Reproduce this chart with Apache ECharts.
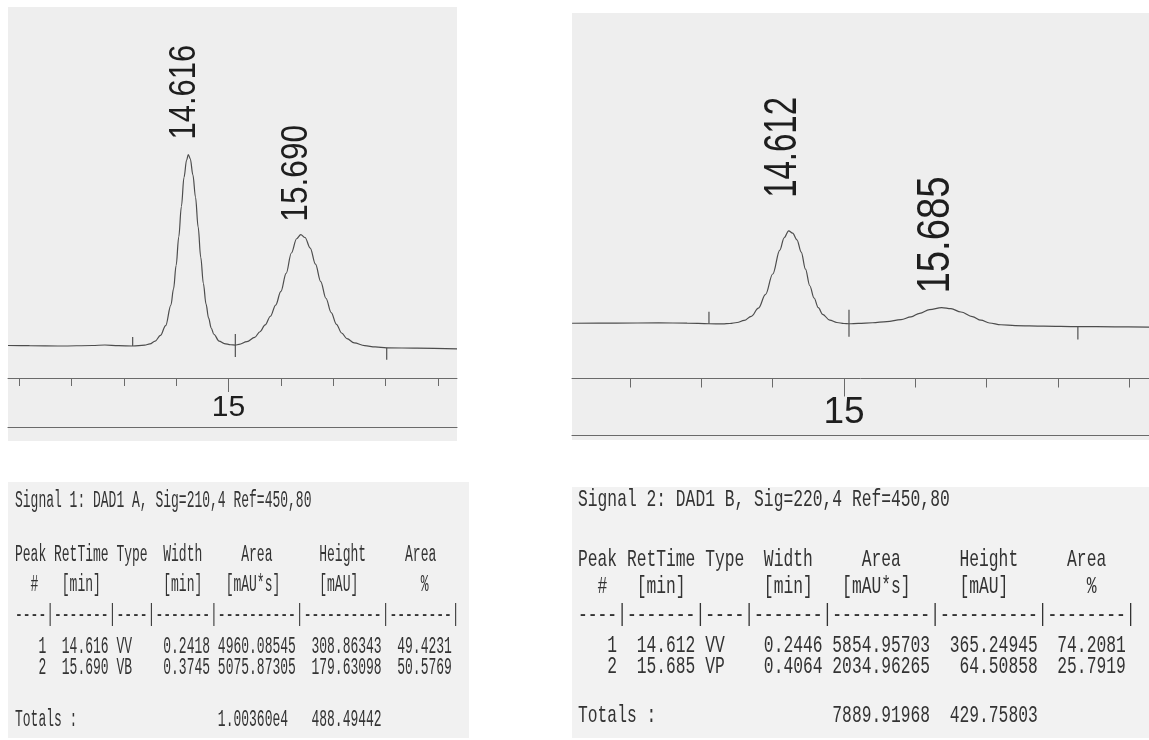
<!DOCTYPE html>
<html>
<head>
<meta charset="utf-8">
<script src="https://cdn.jsdelivr.net/npm/echarts@6/dist/echarts.min.js"></script>
<style>
html, body { margin: 0; padding: 0; background: #ffffff; }
#main { width: 1149px; height: 740px; }
</style>
</head>
<body>
<div id="main"></div>
<script>
// ---- time ruler (min) ----
const rulerTicks = [13, 13.5, 14, 14.5, 15, 15.5, 16, 16.5, 17];
const rulerLabels = [15];

// ---- Signal 1 (DAD1 A, 210 nm) trace ----
const sig1Time = [12.895, 13.10, 13.40, 13.70, 13.82, 13.95, 14.085, 14.20, 14.25, 14.30, 14.35, 14.40,
  14.45, 14.475, 14.50, 14.525, 14.55, 14.575, 14.60, 14.616, 14.635, 14.66, 14.685, 14.71, 14.735,
  14.76, 14.785, 14.81, 14.835, 14.86, 14.91, 14.96, 15.02, 15.065, 15.10, 15.176, 15.25, 15.30, 15.35,
  15.40, 15.45, 15.50, 15.55, 15.60, 15.65, 15.69, 15.73, 15.78, 15.83, 15.88, 15.93, 15.98, 16.03,
  16.08, 16.13, 16.20, 16.30, 16.40, 16.51, 16.80, 17.181];
const sig1mAU = [0.8, 0.5, 0, 0.8, 1.6, 0.5, 0, 1.5, 3.5, 8, 17, 33,
  66, 92, 130, 176, 225, 272, 300, 308.86, 302, 276, 240, 192, 143,
  101, 68, 45, 29, 19, 8, 4, 2, 1.5, 2.5, 7, 14, 23, 34,
  48, 66, 88, 117, 150, 173, 179.63, 175, 158, 132, 104, 77, 54, 35,
  21, 12, 5, 0.5, -1.5, -3, -3.5, -4.5];
const sig1MarkTime = [14.085, 15.065, 16.51];
const sig1MarkKind = ['start', 'valley', 'end'];
const sig1PeakRT = [14.616, 15.690];
const sig1PeakHeight = [308.86, 179.63];

// ---- Signal 2 (DAD1 B, 220 nm) trace ----
const sig2Time = [13.093, 13.40, 13.70, 13.90, 14.053, 14.15, 14.20, 14.25, 14.30, 14.35, 14.40, 14.45,
  14.50, 14.55, 14.58, 14.612, 14.64, 14.67, 14.70, 14.73, 14.76, 14.79, 14.82, 14.85, 14.90, 14.95,
  15.00, 15.035, 15.10, 15.20, 15.30, 15.40, 15.47, 15.53, 15.60, 15.685, 15.75, 15.82, 15.90, 15.96,
  16.02, 16.10, 16.20, 16.40, 16.64, 16.90, 17.139];
const sig2mAU = [3, 3.5, 4.5, 3.5, 1, 0.5, 2, 6, 14, 30, 62, 116,
  196, 290, 338, 365.25, 356, 330, 282, 215, 150, 102, 64, 38, 15, 6,
  2, 1, 2.5, 5, 9, 17, 28, 42, 56, 64.51, 60, 47, 29, 15,
  4, -3, -6, -8, -10, -11, -12];
const sig2MarkTime = [14.053, 15.035, 16.64];
const sig2MarkKind = ['start', 'valley', 'end'];
const sig2PeakRT = [14.612, 15.685];
const sig2PeakHeight = [365.25, 64.51];

// ---- integration report, Signal 1 ----
const tab1Title = 'Signal 1: DAD1 A, Sig=210,4 Ref=450,80';
const tab1Peak = [1, 2];
const tab1RetTime = ['14.616', '15.690'];
const tab1Type = ['VV', 'VB'];
const tab1Width = ['0.2418', '0.3745'];
const tab1Area = ['4960.08545', '5075.87305'];
const tab1Height = ['308.86343', '179.63098'];
const tab1AreaPct = ['49.4231', '50.5769'];
const tab1Totals = ['1.00360e4', '488.49442'];

// ---- integration report, Signal 2 ----
const tab2Title = 'Signal 2: DAD1 B, Sig=220,4 Ref=450,80';
const tab2Peak = [1, 2];
const tab2RetTime = ['14.612', '15.685'];
const tab2Type = ['VV', 'VP'];
const tab2Width = ['0.2446', '0.4064'];
const tab2Area = ['5854.95703', '2034.96265'];
const tab2Height = ['365.24945', '64.50858'];
const tab2AreaPct = ['74.2081', '25.7919'];
const tab2Totals = ['7889.91968', '429.75803'];

const headLine1 = 'Peak RetTime Type  Width     Area      Height     Area  ';
const headLine2 = '  #   [min]        [min]   [mAU*s]     [mAU]        %   ';
const dashLine = '----|-------|----|-------|----------|----------|--------|';

function zip(a, b) { return a.map((v, i) => [v, b[i]]); }

function reportLines(title, peak, rt, type, width, area, height, pct, totals) {
  const rows = peak.map((p, i) =>
    String(p).padStart(4) + ' ' + rt[i].padStart(7) + ' ' + type[i].padEnd(4) + ' ' +
    width[i].padStart(7) + ' ' + area[i].padStart(10) + ' ' + height[i].padStart(10) + ' ' +
    pct[i].padStart(8));
  const tot = 'Totals :'.padEnd(26) + totals[0].padEnd(12) + totals[1];
  return [title, headLine1, headLine2, dashLine, rows[0], rows[1], tot];
}

const chart = echarts.init(document.getElementById('main'), null, { renderer: 'canvas' });

// panel layout (pixels)
const P1 = { left: 8, top: 7, width: 449, height: 371, xMin: 12.895, xMax: 17.181, yMin: -51.6, yMax: 546.8,
  minorLen: 8, majorLen: 14, labelSize: 30, labelMargin: 15, lowerOffset: 49 };
const P2 = { left: 572, top: 13, width: 577, height: 365.5, xMin: 13.0926, xMax: 17.1388, yMin: -213.7, yMax: 1219.6,
  minorLen: 9, majorLen: 18, labelSize: 37, labelMargin: 16, lowerOffset: 56.5 };

const axisGrey = '#6a6a6a';
const traceGrey = '#4d4d4d';

function rulerAxes(g, P) {
  return [
    { gridIndex: g, type: 'value', min: P.xMin, max: P.xMax, position: 'bottom',
      axisLine: { show: true, onZero: false, lineStyle: { color: axisGrey, width: 1 } },
      axisTick: { show: true, customValues: rulerTicks, length: P.minorLen, lineStyle: { color: axisGrey, width: 1 } },
      axisLabel: { show: false }, splitLine: { show: false } },
    { gridIndex: g, type: 'value', min: P.xMin, max: P.xMax, position: 'bottom',
      axisLine: { show: false, onZero: false },
      axisTick: { show: true, customValues: rulerLabels, length: P.majorLen, lineStyle: { color: axisGrey, width: 1 } },
      axisLabel: { show: true, customValues: rulerLabels, margin: P.labelMargin, fontSize: P.labelSize,
        fontFamily: 'Liberation Sans, Arial, sans-serif', color: '#1e1e1e', formatter: v => String(v) },
      splitLine: { show: false } },
    { gridIndex: g, type: 'value', min: P.xMin, max: P.xMax, position: 'bottom', offset: P.lowerOffset,
      axisLine: { show: true, onZero: false, lineStyle: { color: axisGrey, width: 1.2 } },
      axisTick: { show: false }, axisLabel: { show: false }, splitLine: { show: false } }
  ];
}

const markLen1 = { start: [9, 0], valley: [11, 12], end: [0, 12] };
const markLen2 = { start: [12, 0], valley: [14, 13], end: [0, 13] };

function markSeries(xi, yi, times, kinds, trT, trV, lens) {
  return {
    type: 'custom', xAxisIndex: xi, yAxisIndex: yi, silent: true, z: 4,
    data: times.map(t => [t, trV[trT.indexOf(t)]]),
    renderItem: (params, api) => {
      const p = api.coord([api.value(0), api.value(1)]);
      const L = lens[kinds[params.dataIndex]];
      return { type: 'line', shape: { x1: p[0], y1: p[1] - L[0], x2: p[0], y2: p[1] + L[1] },
        style: { stroke: '#505050', lineWidth: 1.2 } };
    }
  };
}

function traceSeries(xi, yi, t, v) {
  return { type: 'line', xAxisIndex: xi, yAxisIndex: yi, data: zip(t, v), showSymbol: false,
    smooth: 0.35, smoothMonotone: 'x', silent: true, z: 3,
    lineStyle: { color: traceGrey, width: 1.2 } };
}

const option = {
  animation: false,
  backgroundColor: '#ffffff',
  grid: [
    { left: P1.left, top: P1.top, width: P1.width, height: P1.height, containLabel: false },
    { left: P2.left, top: P2.top, width: P2.width, height: P2.height, containLabel: false }
  ],
  xAxis: rulerAxes(0, P1).concat(rulerAxes(1, P2)),
  yAxis: [
    { gridIndex: 0, type: 'value', min: P1.yMin, max: P1.yMax, show: false },
    { gridIndex: 1, type: 'value', min: P2.yMin, max: P2.yMax, show: false }
  ],
  series: [
    traceSeries(0, 0, sig1Time, sig1mAU),
    markSeries(0, 0, sig1MarkTime, sig1MarkKind, sig1Time, sig1mAU, markLen1),
    traceSeries(3, 1, sig2Time, sig2mAU),
    markSeries(3, 1, sig2MarkTime, sig2MarkKind, sig2Time, sig2mAU, markLen2)
  ]
};
chart.setOption(option);

// ---- decorations: paper panels, peak annotations, reports ----
const graphics = [];
function panel(x, y, w, h, fill) {
  graphics.push({ type: 'rect', z: -10, silent: true, shape: { x, y, width: w, height: h }, style: { fill } });
}
panel(8, 7, 449, 434, '#eeeeee');
panel(572, 13, 577, 427, '#eeeeee');
panel(8, 482, 461, 256, '#f1f1f1');
panel(572, 487, 577, 251, '#f2f2f2');

// retention-time annotations written vertically above each apex
function peakLabels(xi, yi, rts, hts, fontSize, stretch, lengths, gaps, dx) {
  rts.forEach((rt, i) => {
    const p = chart.convertToPixel({ xAxisIndex: xi, yAxisIndex: yi }, [rt, hts[i]]);
    graphics.push({
      type: 'text', z: 10, silent: true,
      x: p[0] + dx, y: p[1] - gaps[i], rotation: Math.PI / 2, scaleX: lengths[i], scaleY: stretch,
      style: { text: rt.toFixed(3), fontFamily: 'Liberation Sans, Arial, sans-serif', fontSize,
        fill: '#1e1e1e', align: 'left', verticalAlign: 'middle' }
    });
  });
}
peakLabels(0, 0, sig1PeakRT, sig1PeakHeight, 31, 1.22, [1, 1.02], [15, 13], -4);
peakLabels(3, 1, sig2PeakRT, sig2PeakHeight, 33, 1.38, [1, 1.16], [33, 14], -5);

// monospace integration reports
function report(lines, x, ys, fontSize, sx, fill) {
  lines.forEach((ln, i) => {
    graphics.push({
      type: 'text', z: 10, silent: true, x, y: ys[i], scaleX: sx, scaleY: 1,
      style: { text: ln, fontFamily: 'Liberation Mono, DejaVu Sans Mono, monospace', fontSize,
        fill, align: 'left', verticalAlign: 'middle' }
    });
  });
}
report(reportLines(tab1Title, tab1Peak, tab1RetTime, tab1Type, tab1Width, tab1Area, tab1Height, tab1AreaPct, tab1Totals),
  15, [501, 555, 585, 615, 647, 668, 720], 23, 7.8 / (0.6 * 23), '#333333');
report(reportLines(tab2Title, tab2Peak, tab2RetTime, tab2Type, tab2Width, tab2Area, tab2Height, tab2AreaPct, tab2Totals),
  578, [500, 560, 587, 615, 646, 667, 716], 24, 9.78 / (0.6 * 24), '#333333');

chart.setOption({ graphic: graphics });
</script>
</body>
</html>
